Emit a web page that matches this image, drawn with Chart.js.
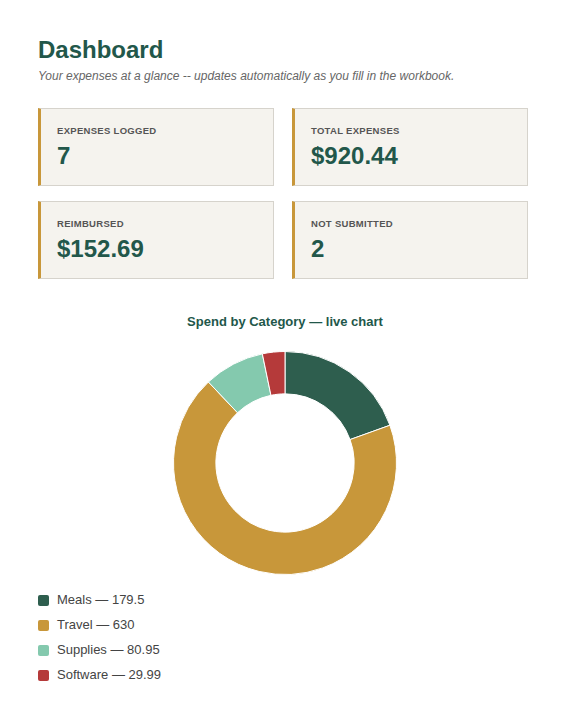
<!DOCTYPE html>
<html><head><meta charset="utf-8">
<script src="https://cdn.jsdelivr.net/npm/chart.js@4"></script>
<style>
body{margin:0;background:#fff;font-family:"Liberation Sans",Arial,sans-serif;width:570px;height:728px;position:relative}
h1{position:absolute;left:38px;top:36px;margin:0;font-size:24px;color:#22574a;font-weight:bold}
.sub{position:absolute;left:38px;top:69px;font-size:12px;font-style:italic;color:#666}
.card{position:absolute;width:236px;height:78px;background:#f5f3ee;border:1px solid #d6d3cc;border-left:3px solid #c8973a;box-sizing:border-box}
.card .l{position:absolute;left:16px;top:16px;font-size:9.5px;font-weight:bold;color:#555;letter-spacing:.3px}
.card .v{position:absolute;left:16px;top:33px;font-size:24px;font-weight:bold;color:#22574a}
.ct{position:absolute;left:0;width:570px;top:314px;text-align:center;font-size:13px;font-weight:bold;color:#22574a}
#wrap{position:absolute;left:38px;top:351px;width:494px;height:224px}
#leg{position:absolute;left:38px;top:592px;font-size:13px;color:#444}
#leg div{height:25px;display:flex;align-items:flex-start}
#leg span.b{display:inline-block;width:11px;height:11px;border-radius:2px;margin-right:8px;margin-top:3px}
</style></head><body>
<h1>Dashboard</h1>
<div class="sub">Your expenses at a glance -- updates automatically as you fill in the workbook.</div>
<div class="card" style="left:38px;top:108px"><div class="l">EXPENSES LOGGED</div><div class="v">7</div></div>
<div class="card" style="left:292px;top:108px"><div class="l">TOTAL EXPENSES</div><div class="v">$920.44</div></div>
<div class="card" style="left:38px;top:201px"><div class="l">REIMBURSED</div><div class="v">$152.69</div></div>
<div class="card" style="left:292px;top:201px"><div class="l">NOT SUBMITTED</div><div class="v">2</div></div>
<div class="ct">Spend by Category — live chart</div>
<div id="wrap"><canvas id="c"></canvas></div>
<div id="leg"></div>
<script>
const categories=["Meals","Travel","Supplies","Software"];
const values=[179.5,630,80.95,29.99];
const colors=["#2e5e4e","#c8973a","#84c9ae","#b53a3a"];
new Chart(document.getElementById('c'),{type:'doughnut',
data:{labels:categories,datasets:[{data:values,backgroundColor:colors,borderColor:'#fff',borderWidth:1}]},
options:{responsive:true,maintainAspectRatio:false,animation:false,cutout:'62%',
plugins:{legend:{display:false},tooltip:{enabled:false}}}});
const leg=document.getElementById('leg');
categories.forEach((c,i)=>{const d=document.createElement('div');
d.innerHTML='<span class="b" style="background:'+colors[i]+'"></span>'+c+' — '+values[i];leg.appendChild(d);});
</script></body></html>
